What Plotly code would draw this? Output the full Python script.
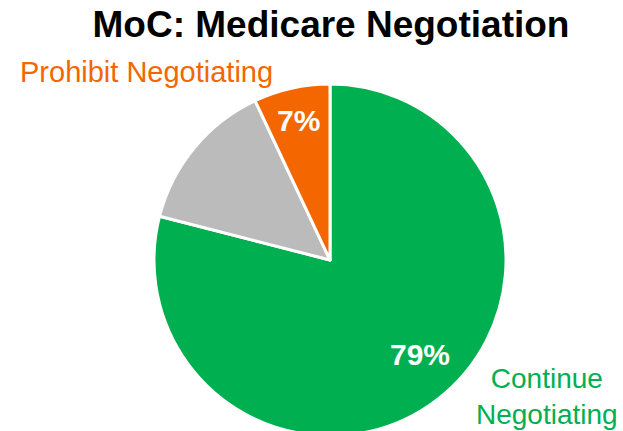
import math
import plotly.graph_objects as go

# Data
categories = ["Continue Negotiating", "Don't Know", "Prohibit Negotiating"]
values = [79, 14, 7]
slice_colors = ["#00B050", "#BBBBBB", "#F46600"]
show_pct = [True, False, True]
label_lines = {"Continue Negotiating": "Continue<br>Negotiating",
               "Prohibit Negotiating": "Prohibit Negotiating"}

# label placement style (radial fraction, angle shift in degrees)
pct_radius = [0.74, 0.0, 0.81]
pct_shift = [-6, 0, 0]

W, H = 623, 445
FONT = "Liberation Sans, Arial, sans-serif"

def px_x(x):
    return x / W

def px_y(y):
    return 1 - y / H

cx, cy, r = 330, 260, 176

fig = go.Figure(go.Pie(
    labels=categories,
    values=values,
    sort=False,
    direction="clockwise",
    rotation=0,
    marker=dict(colors=slice_colors, line=dict(color="white", width=3)),
    textinfo="none",
    hoverinfo="label+percent",
    showlegend=False,
    domain=dict(x=[px_x(cx - r), px_x(cx + r)], y=[px_y(cy + r), px_y(cy - r)]),
))

total = sum(values)
cum = 0
for v, s, rf, sh in zip(values, show_pct, pct_radius, pct_shift):
    mid = (cum + v / 2) / total * 360 + sh
    cum += v
    if not s:
        continue
    a = math.radians(mid)
    x = cx + rf * r * math.sin(a)
    y = cy - rf * r * math.cos(a)
    fig.add_annotation(
        text=f"{round(v / total * 100)}%", x=px_x(x), y=px_y(y),
        xref="paper", yref="paper", xanchor="center", yanchor="middle", showarrow=False,
        font=dict(family=FONT, size=30, color="white", weight="bold"),
    )

fig.add_annotation(
    text=label_lines["Prohibit Negotiating"], x=px_x(18), y=px_y(72),
    xref="paper", yref="paper", xanchor="left", yanchor="middle", showarrow=False,
    font=dict(family=FONT, size=29, color=slice_colors[2]),
)
fig.add_annotation(
    text=label_lines["Continue Negotiating"], x=px_x(547), y=px_y(396),
    xref="paper", yref="paper", xanchor="center", yanchor="middle", showarrow=False,
    align="center",
    font=dict(family=FONT, size=28, color=slice_colors[0]),
)

fig.update_layout(
    width=W, height=H,
    margin=dict(l=0, r=0, t=0, b=0),
    paper_bgcolor="white",
    title=dict(text="MoC: Medicare Negotiation", x=px_x(331), xanchor="center",
               y=px_y(24), yanchor="middle", yref="container",
               font=dict(family=FONT, size=37, color="black", weight="bold")),
)

fig.write_html(
    "out.html",
    config={"displayModeBar": False},
    post_script="document.documentElement.style.overflow='hidden';"
                "document.body.style.margin='0';document.body.style.overflow='hidden';",
)
